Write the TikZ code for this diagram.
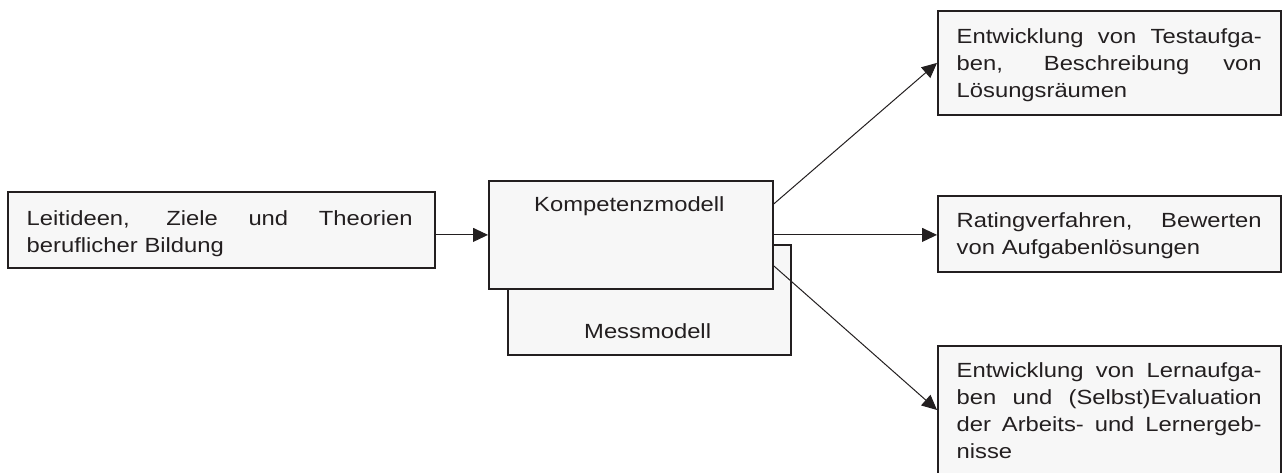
\documentclass[tikz,border=0pt]{standalone}
\usepackage{fontspec}
\setmainfont{Liberation Sans}[FakeStretch=1.16]
\usetikzlibrary{arrows.meta,calc}
\definecolor{boxfill}{HTML}{F7F7F7}
\definecolor{ink}{HTML}{231F20}
% one fully justified line, as wide as the paragraph
% (the font's own stretchable interword space is restored first)
\newcommand{\fullline}[1]{{\spaceskip=0pt\xspaceskip=0pt\makebox[\hsize][s]{#1}}}

\begin{document}
\begin{tikzpicture}[x=1pt,y=-1pt,
  box/.style={draw=ink, line width=1.8pt, fill=boxfill, rectangle, inner sep=0pt, anchor=north west},
  txt/.style={text=ink, font=\fontsize{20.5}{27}\selectfont, inner sep=0pt},
  para/.style={txt, align=left, anchor=north west},
  conn/.style={draw=ink, line width=1pt, -{Triangle[length=15pt,width=14pt]}}]
\useasboundingbox (0,0) rectangle (1282,472);
\clip (0,0) rectangle (1282,472);

% boxes (Messmodell lies behind Kompetenzmodell)
\node[box, minimum width=427pt, minimum height=76pt]  (leit) at (7,191) {};
\node[box, minimum width=283pt, minimum height=110pt] (mess) at (507,244) {};
\node[box, minimum width=284pt, minimum height=108pt] (komp) at (488,180) {};
\node[box, minimum width=343pt, minimum height=104pt] (top)  at (937,10) {};
\node[box, minimum width=343pt, minimum height=76pt]  (mid)  at (937,195) {};
\node[box, minimum width=343pt, minimum height=150pt] (bot)  at (937,345) {};

% texts
\node[para, text width=386pt] (leittxt) at (26.5,210)
  {\fullline{Leitideen, Ziele und Theorien}\\beruflicher Bildung};
\node[txt, anchor=base west] (komptxt) at (534,211) {Kompetenzmodell};
\node[txt, anchor=base west] (messtxt) at (584,338) {Messmodell};
\node[para, text width=305pt] (toptxt) at (956.5,28)
  {\fullline{Entwicklung von Testaufga-}\\
   \fullline{ben, Beschreibung von}\\
   Lösungsräumen};
\node[para, text width=305pt] (midtxt) at (956.5,212)
  {\fullline{Ratingverfahren, Bewerten}\\
   von Aufgabenlösungen};
\node[para, text width=305pt] (bottxt) at (956.5,362)
  {\fullline{Entwicklung von Lernaufga-}\\
   \fullline{ben und (Selbst)Evaluation}\\
   \fullline{der Arbeits- und Lernergeb-}\\
   nisse};

% connectors
\draw[conn] (leit.east |- komp.west) -- (komp.west);
\draw[conn] ($(komp.east)+(0,-31)$) -- (top.west);
\draw[conn] (komp.east) -- (komp.east -| mid.west);
\draw[conn] ($(komp.east)+(0,31)$) -- ($(bot.north west)+(0,65)$);
\end{tikzpicture}
\end{document}
